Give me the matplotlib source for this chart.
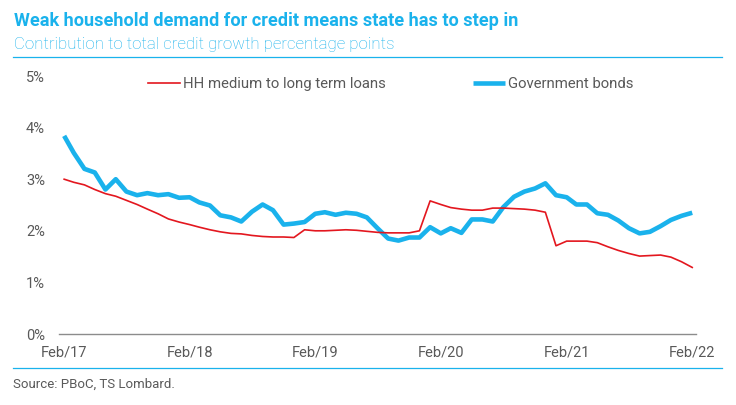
import numpy as np
import pandas as pd
import matplotlib
matplotlib.use("Agg")
import matplotlib.pyplot as plt
import matplotlib.dates as mdates
from matplotlib.ticker import FuncFormatter

plt.rcParams['font.family'] = ['Roboto', 'DejaVu Sans']

# monthly data, Feb 2017 .. Feb 2022 (percentage points)
months = pd.date_range("2017-02-01", "2022-02-01", freq="MS")

hh_loans = [3.00, 2.94, 2.89, 2.80, 2.72, 2.67, 2.59, 2.51, 2.42, 2.33,
            2.23, 2.17, 2.12, 2.07, 2.02, 1.98, 1.95, 1.94, 1.91, 1.89,
            1.88, 1.88, 1.87, 2.02, 2.00, 2.00, 2.01, 2.02, 2.01, 1.99,
            1.97, 1.96, 1.96, 1.96, 2.00, 2.58, 2.51, 2.45, 2.42, 2.40,
            2.40, 2.44, 2.44, 2.43, 2.42, 2.40, 2.36, 1.71, 1.80, 1.80,
            1.80, 1.77, 1.69, 1.62, 1.56, 1.51, 1.52, 1.53, 1.49, 1.40,
            1.29]

gov_bonds = [3.84, 3.51, 3.20, 3.13, 2.80, 3.00, 2.76, 2.69, 2.73, 2.69,
             2.71, 2.64, 2.65, 2.55, 2.49, 2.30, 2.26, 2.18, 2.37, 2.51,
             2.40, 2.12, 2.14, 2.17, 2.33, 2.36, 2.31, 2.35, 2.33, 2.26,
             2.05, 1.85, 1.81, 1.87, 1.87, 2.07, 1.95, 2.05, 1.96, 2.22,
             2.22, 2.18, 2.46, 2.66, 2.76, 2.82, 2.92, 2.69, 2.65, 2.51,
             2.51, 2.34, 2.31, 2.20, 2.05, 1.95, 1.98, 2.09, 2.21, 2.29,
             2.35]

title = "Weak household demand for credit means state has to step in"
subtitle = "Contribution to total credit growth percentage points"
source = "Source: PBoC, TS Lombard."

BLUE = "#1AB2EC"
RED = "#E3171F"
TXT = "#595959"
W, H = 736, 405

fig = plt.figure(figsize=(W / 100, H / 100), dpi=100)
ax = fig.add_axes([59 / W, 1 - 334 / H, (696 - 59) / W, (334 - 76) / H])

ax.plot(months, hh_loans, color=RED, lw=1.2, label="HH medium to long term loans",
        solid_joinstyle="round", zorder=3)
ax.plot(months, gov_bonds, color=BLUE, lw=3.3, label="Government bonds",
        solid_joinstyle="round", solid_capstyle="butt", zorder=2)

ax.set_ylim(0, 5)
ax.set_yticks(range(0, 6))
ax.yaxis.set_major_formatter(FuncFormatter(lambda v, p: f"{v:.0f}%"))
ax.set_xlim(months[0] - pd.Timedelta(days=15), months[-1] + pd.Timedelta(days=11))
ax.xaxis.set_major_locator(mdates.MonthLocator(bymonth=2))
ax.xaxis.set_major_formatter(mdates.DateFormatter("%b/%y"))

for s in ["top", "right", "left"]:
    ax.spines[s].set_visible(False)
ax.spines["bottom"].set_color("#8C8C8C")
ax.spines["bottom"].set_linewidth(1.0)
ax.tick_params(axis="both", length=0, labelsize=10.5, labelcolor=TXT)
ax.tick_params(axis="y", pad=10)
ax.tick_params(axis="x", pad=8)
ax.patch.set_visible(False)

leg = ax.legend(ncol=2, loc="center left", bbox_to_anchor=(148 / W, 1 - 84 / H),
                bbox_transform=fig.transFigure, frameon=False, fontsize=10.7,
                handlelength=2.15, handletextpad=0.2, columnspacing=5.9,
                borderpad=0, borderaxespad=0)
for t in leg.get_texts():
    t.set_color(TXT)

fig.text(14 / W, 1 - 26 / H, title, color=BLUE, fontsize=13.1, fontweight="bold",
         ha="left", va="baseline")
fig.text(14 / W, 1 - 48.5 / H, subtitle, color=BLUE, fontsize=12.2, fontweight="light",
         ha="left", va="baseline")
fig.text(13 / W, 1 - 384 / H, source, color=TXT, fontsize=9.5, ha="left", va="center")

fig.add_artist(plt.Line2D([13 / W, 722 / W], [1 - 57.3 / H] * 2, color=BLUE, lw=0.9,
                          transform=fig.transFigure))
fig.add_artist(plt.Line2D([13 / W, 722 / W], [1 - 368.3 / H] * 2, color=BLUE, lw=0.9,
                          transform=fig.transFigure))

fig.savefig("out.png", dpi=100)
